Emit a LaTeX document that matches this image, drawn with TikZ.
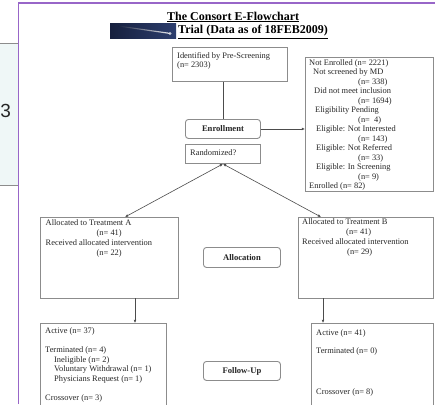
\documentclass[tikz,border=0pt]{standalone}
\usepackage{fontspec}
\setmainfont{Liberation Serif}
\newfontfamily\sidefont{Liberation Sans}
\usetikzlibrary{arrows.meta}
\definecolor{slidepurple}{RGB}{152,102,200}
\definecolor{panelcyan}{RGB}{239,247,247}
\definecolor{boxgray}{RGB}{140,140,140}
\definecolor{navy}{RGB}{22,32,62}
\definecolor{navylight}{RGB}{45,62,110}
\begin{document}
\begin{tikzpicture}[x=1pt,y=-1pt,
  box/.style={draw=boxgray, line width=0.9pt, fill=white, inner sep=0pt, anchor=north west},
  rbox/.style={box, rounded corners=3pt},
  txt/.style={font=\fontsize{8.4}{9.5}\selectfont, inner sep=0pt, anchor=north west, align=left, text=black!85},
  lbl/.style={font=\fontsize{8.6}{10}\selectfont\bfseries, inner sep=0pt, text=black!85},
  conn/.style={draw=black!70, line width=0.6pt},
  tip/.style={-{Latex[length=3.2pt,width=2.8pt]}},
  both/.style={{Latex[length=3.2pt,width=2.8pt]}-{Latex[length=3.2pt,width=2.8pt]}}
]
\useasboundingbox (0,0) rectangle (435,404);
\clip (0,0) rectangle (435,404);
\fill[white] (0,0) rectangle (435,404);

% left slide strip
\fill[panelcyan] (0,43) rectangle (18.5,185);
\draw[boxgray, line width=0.6pt] (0,43) -- (18.5,43) (0,185) -- (18.5,185);
\node[font=\sidefont\fontsize{19}{19}\selectfont, inner sep=0pt, anchor=west, text=black!85] (sideB) at (0.3,111) {3};
\draw[slidepurple, line width=1.3pt] (18.5,404) -- (18.5,3) -- (436,3);

% banner
\shade[left color=navy, right color=navylight] (110,24) rectangle (176,39);
\shade[left color=navy, right color=white, opacity=0.9] (118,25.5) -- (168,32.5) -- (170,34) -- (118,26.5) -- cycle;
\fill[white, opacity=0.7] (170,33.5) circle (1.6pt);

% title
\node[font=\fontsize{12}{14}\selectfont\bfseries, inner sep=0pt, anchor=west] (title1) at (167,17) {\underline{The Consort E-Flowchart}};
\node[font=\fontsize{12}{14}\selectfont\bfseries, inner sep=0pt, anchor=west] (title2) at (178,32) {\underline{Trial (Data as of 18FEB2009)}};

% boxes
\node[box, minimum width=115pt, minimum height=34pt] (ident) at (172,47) {};
\node[box, minimum width=128pt, minimum height=134pt] (notenr) at (305,57) {};
\node[rbox, minimum width=75pt, minimum height=19pt] (enroll) at (185,119) {};
\node[box, minimum width=75pt, minimum height=19pt] (rand) at (185,144) {};
\node[box, minimum width=138pt, minimum height=81pt] (trA) at (40,217) {};
\node[box, minimum width=135pt, minimum height=81pt] (trB) at (298,217) {};
\node[rbox, minimum width=77pt, minimum height=20pt] (alloc) at (203,247) {};
\node[box, minimum width=126pt, minimum height=90pt] (fuA) at (40,323) {};
\node[box, minimum width=122pt, minimum height=90pt] (fuB) at (311,323) {};
\node[rbox, minimum width=77pt, minimum height=19pt] (follow) at (203,361) {};

% labels
\node[lbl] (enrollL) at (enroll.center) {Enrollment};
\node[lbl] (allocL) at (alloc.center) {Allocation};
\node[lbl] (followL) at (follow.center) {Follow-Up};

% texts
\node[txt] (identT) at (177,52) {Identified by Pre-Screening\\(n= 2303)};
\node[txt, anchor=west] (randT) at (190,152.5) {Randomized?};
\node[txt] (notenrT) at (309,59) {Not Enrolled (n= 2221)\\
\hspace*{4pt}Not screened by MD\\
\hspace*{49pt}(n= 338)\\
\hspace*{5pt}Did not meet inclusion\\
\hspace*{49pt}(n= 1694)\\
\hspace*{6pt}Eligibility Pending\\
\hspace*{49pt}(n=\ \ 4)\\
\hspace*{7pt}Eligible: Not Interested\\
\hspace*{49pt}(n= 143)\\
\hspace*{7pt}Eligible: Not Referred\\
\hspace*{49pt}(n= 33)\\
\hspace*{7pt}Eligible: In Screening\\
\hspace*{49pt}(n= 9)\\
Enrolled (n= 82)};
\node[txt, font=\fontsize{8.4}{10}\selectfont] (trAT) at (45.5,219.5) {Allocated to Treatment A\\
\hspace*{51pt}(n= 41)\\
Received allocated intervention\\
\hspace*{51pt}(n= 22)};
\node[txt, font=\fontsize{8.4}{10}\selectfont] (trBT) at (302,218.5) {Allocated to Treatment B\\
\hspace*{44pt}(n= 41)\\
Received allocated intervention\\
\hspace*{45pt}(n= 29)};
\node[txt] (fuAT) at (45,327.5) {Active (n= 37)\\[9.5pt]
Terminated (n= 4)\\
\hspace*{9pt}Ineligible (n= 2)\\
\hspace*{9pt}Voluntary Withdrawal (n= 1)\\
\hspace*{9pt}Physicians Request (n= 1)\\[9.5pt]
Crossover (n= 3)};
\node[txt, anchor=west] (fuBT1) at (316,333) {Active (n= 41)};
\node[txt, anchor=west] (fuBT2) at (316,351) {Terminated (n= 0)};
\node[txt, anchor=west] (fuBT3) at (316,392) {Crossover (n= 8)};

% connectors
\coordinate (aTop) at (125,217);
\coordinate (bTop) at (321,217);
\coordinate (aBot) at (135,298);
\coordinate (bBot) at (323,298);
\draw[conn] (enroll.north |- ident.south) -- (enroll.north);
\draw[conn, tip] (enroll.east) -- (enroll.east -| notenr.west);
\draw[conn, both] (rand.south) -- (aTop);
\draw[conn, both] (rand.south) -- (bTop);
\draw[conn, tip] (aBot) -- (aBot |- fuA.north);
\draw[conn, tip] (bBot) -- (bBot |- fuB.north);
\end{tikzpicture}
\end{document}
